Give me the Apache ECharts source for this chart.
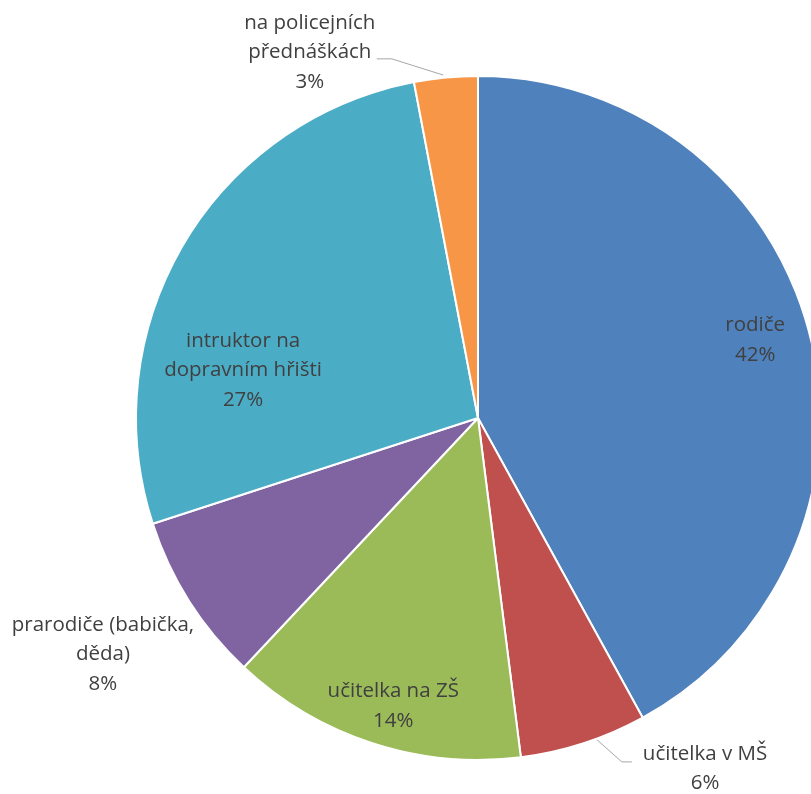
<!DOCTYPE html>
<html>
<head>
<meta charset="utf-8">
<script src="https://cdn.jsdelivr.net/npm/echarts@6/dist/echarts.min.js"></script>
<style>
  html, body { margin: 0; padding: 0; background: #ffffff; }
  #chart { width: 811px; height: 794px; }
</style>
</head>
<body>
<div id="chart"></div>
<script>
// Who taught the children traffic rules (share of answers, %)
const categories = [
  'rodiče',
  'učitelka v MŠ',
  'učitelka na ZŠ',
  'prarodiče (babička,\nděda)',
  'intruktor na\ndopravním hřišti',
  'na policejních\npřednáškách'
];
const shares = [42, 6, 14, 8, 27, 3];
const colors = ['#4F81BD', '#C0504D', '#9BBB59', '#8064A2', '#4BACC6', '#F79646'];

// Pie geometry
const CX = 478, CY = 418, R = 342;

// Label anchors in polar form: [angle clockwise from 12 o'clock (deg), distance as fraction of R]
const labelAnchors = [
  [74.3, 0.842],
  [147.1, 1.222],
  [196.4, 0.878],
  [237.8, 1.296],
  [281.5, 0.701],
  [335.3, 1.177]
];
// Leader lines of the outside labels: rim point, bend point (polar) and a short horizontal run
const leaders = {
  1: { from: [159.8, 1.0], bend: [157.3, 1.09], run: 10 },
  5: { from: [354.2, 1.008], bend: [346.5, 1.08], run: -15 }
};
const outsideLabels = [1, 3, 5];

function polar(a, f) {
  const t = a * Math.PI / 180;
  return [CX + R * f * Math.sin(t), CY - R * f * Math.cos(t)];
}

const data = categories.map((name, i) => ({
  name: name,
  value: shares[i],
  itemStyle: { color: colors[i] },
  label: { position: outsideLabels.includes(i) ? 'outside' : 'inside' },
  labelLine: { show: !!leaders[i] }
}));

const chart = echarts.init(document.getElementById('chart'), null, { renderer: 'canvas' });
chart.setOption({
  animation: false,
  backgroundColor: '#ffffff',
  series: [{
    type: 'pie',
    center: [CX, CY],
    radius: R,
    startAngle: 90,
    clockwise: true,
    avoidLabelOverlap: false,
    itemStyle: { borderColor: '#ffffff', borderWidth: 2 },
    label: {
      show: true,
      formatter: '{b}\n{c}%',
      color: '#404040',
      fontFamily: 'Open Sans',
      fontSize: 20.5,
      lineHeight: 29.5,
      align: 'center',
      overflow: 'none'
    },
    labelLine: {
      lineStyle: { color: '#a6a6a6', width: 1 },
      length: 15,
      length2: 10
    },
    labelLayout: function (params) {
      const i = params.dataIndex;
      const p = polar(labelAnchors[i][0], labelAnchors[i][1]);
      const res = { x: p[0], y: p[1], align: 'center', verticalAlign: 'middle' };
      const ld = leaders[i];
      if (ld) {
        const a = polar(ld.from[0], ld.from[1]);
        const b = polar(ld.bend[0], ld.bend[1]);
        res.labelLinePoints = [a, b, [b[0] + ld.run, b[1]]];
      }
      return res;
    },
    data: data
  }]
});
</script>
</body>
</html>
